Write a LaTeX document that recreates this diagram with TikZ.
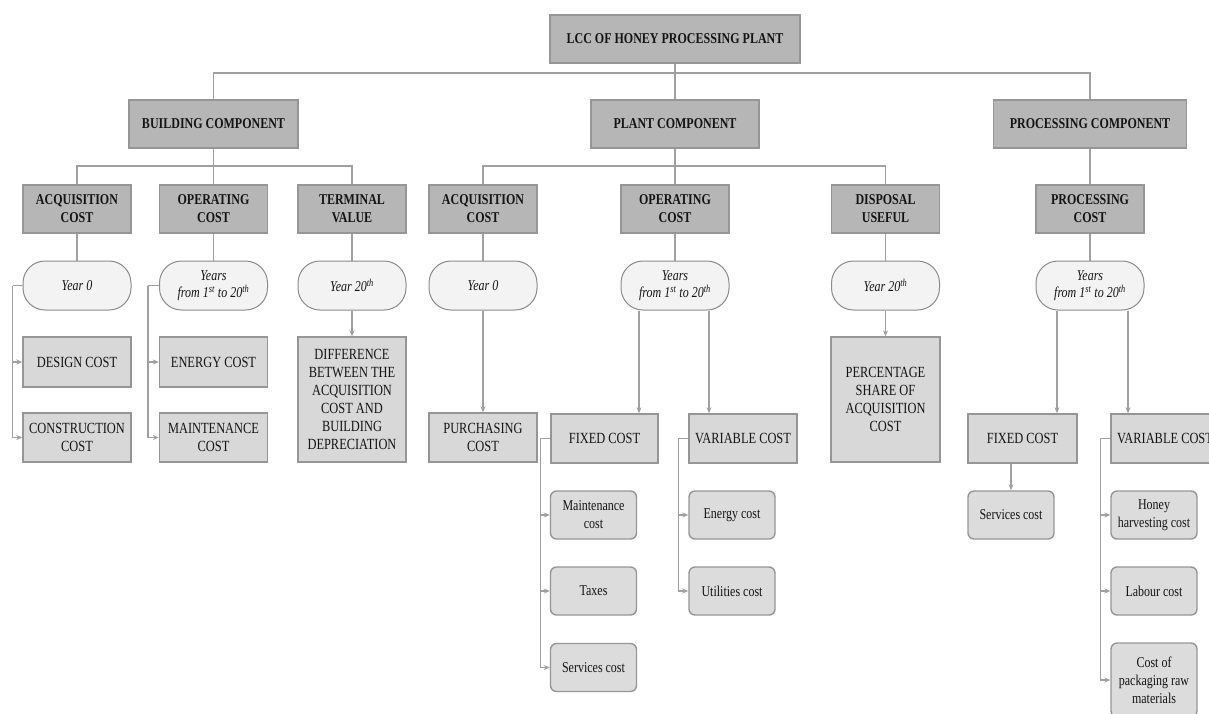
\documentclass[tikz,border=0pt]{standalone}
\usepackage{fontspec}
\setmainfont{Liberation Serif}[FakeStretch=0.8]
\usetikzlibrary{arrows.meta}
\definecolor{darkfill}{RGB}{182,182,182}
\definecolor{darkline}{RGB}{150,150,150}
\definecolor{lightfill}{RGB}{216,216,216}
\definecolor{roundfill}{RGB}{220,220,220}
\definecolor{ovalfill}{RGB}{243,243,243}
\definecolor{ovalline}{RGB}{140,140,140}
\definecolor{conn}{RGB}{160,160,160}
\definecolor{txt}{RGB}{20,20,20}
\tikzset{
  base/.style={align=center, inner sep=2pt, text=txt, font=\fontsize{15}{18}\selectfont, line width=1.4pt},
  hbox/.style={base, draw=darkline, fill=darkfill, font=\fontsize{15}{18}\selectfont\bfseries, minimum height=48pt},
  lbox/.style={base, draw=darkline, fill=lightfill, minimum width=108pt, font=\fontsize{15.5}{18}\selectfont},
  rbox/.style={base, draw=darkline, fill=roundfill, rounded corners=6pt, minimum width=86pt, minimum height=48pt},
  oval/.style={base, draw=ovalline, fill=ovalfill, rounded corners=22pt, minimum width=108pt, minimum height=49pt, font=\fontsize{15}{17}\selectfont\itshape, line width=1pt},
  ln/.style={draw=conn, line width=1.3pt},
  arr/.style={ln, -{Stealth[length=6pt,width=5pt]}}
}
\begin{document}
\begin{tikzpicture}[x=1pt, y=-1pt]
\useasboundingbox (0,0) rectangle (1209,713);
\clip (0,0) rectangle (1209,713);
\fill[white] (0,0) rectangle (1209,713);
% level 1
\node[hbox, minimum width=250pt] (lcc) at (675,39) {LCC OF HONEY PROCESSING PLANT};
% level 2
\node[hbox, minimum width=169pt] (bc) at (213.5,124) {BUILDING COMPONENT};
\node[hbox, minimum width=168pt] (pc) at (675,124) {PLANT COMPONENT};
\node[hbox, minimum width=193pt] (prc) at (1090,124) {PROCESSING COMPONENT};
% level 3
\node[hbox, minimum width=108pt] (ab) at (77,209) {ACQUISITION\\COST};
\node[hbox, minimum width=108pt] (ob) at (213.5,209) {OPERATING\\COST};
\node[hbox, minimum width=108pt] (tb) at (352,209) {TERMINAL\\VALUE};
\node[hbox, minimum width=108pt] (ap) at (483,209) {ACQUISITION\\COST};
\node[hbox, minimum width=108pt] (op) at (675,209) {OPERATING\\COST};
\node[hbox, minimum width=108pt] (dp) at (885.5,209) {DISPOSAL\\USEFUL};
\node[hbox, minimum width=108pt] (pcst) at (1090,209) {PROCESSING\\COST};
% level 4 ovals
\node[oval] (yb0) at (77,285.5) {Year 0};
\node[oval] (ybn) at (213.5,285.5) {Years\\from 1\textsuperscript{st} to 20\textsuperscript{th}};
\node[oval] (yb20) at (352,285.5) {Year 20\textsuperscript{th}};
\node[oval] (yp0) at (483,285.5) {Year 0};
\node[oval] (ypn) at (675,285.5) {Years\\from 1\textsuperscript{st} to 20\textsuperscript{th}};
\node[oval] (yd20) at (885.5,285.5) {Year 20\textsuperscript{th}};
\node[oval] (yrn) at (1090,285.5) {Years\\from 1\textsuperscript{st} to 20\textsuperscript{th}};
% level 5 building
\node[lbox, minimum height=50pt] (design) at (77,362) {DESIGN COST};
\node[lbox, minimum height=49pt] (constr) at (77,437.5) {CONSTRUCTION\\COST};
\node[lbox, minimum height=50pt] (energyb) at (213.5,362) {ENERGY COST};
\node[lbox, minimum height=49pt] (maintb) at (213.5,437.5) {MAINTENANCE\\COST};
\node[lbox, minimum height=125pt] (diff) at (352,399.5) {DIFFERENCE\\BETWEEN THE\\ACQUISITION\\COST AND\\BUILDING\\DEPRECIATION};
% level 5 plant
\node[lbox, minimum height=49pt] (purch) at (483,437.5) {PURCHASING\\COST};
\node[lbox, minimum width=107pt, minimum height=49pt] (fixp) at (604.5,438.5) {FIXED COST};
\node[lbox, minimum height=49pt] (varp) at (743,438.5) {VARIABLE COST};
\node[lbox, minimum width=109pt, minimum height=125pt] (perc) at (885.5,399.5) {PERCENTAGE\\SHARE OF\\ACQUISITION\\COST};
% level 5 processing
\node[lbox, minimum width=109pt, minimum height=49pt] (fixr) at (1022.5,438.5) {FIXED COST};
\node[lbox, minimum height=49pt] (varr) at (1165,438.5) {VARIABLE COST};
% level 6
\node[rbox] (maint) at (593.5,515) {Maintenance\\cost};
\node[rbox] (taxes) at (593.5,591) {Taxes};
\node[rbox] (svc) at (593.5,667.5) {Services cost};
\node[rbox] (energyp) at (732,515) {Energy cost};
\node[rbox] (util) at (732,591) {Utilities cost};
\node[rbox] (svcr) at (1011,515) {Services cost};
\node[rbox] (honey) at (1154,515) {Honey\\harvesting cost};
\node[rbox] (labour) at (1154,591) {Labour cost};
\node[rbox, minimum height=74pt] (pack) at (1154,680) {Cost of\\packaging raw\\materials};
% connectors level 1-2
\coordinate (j1) at (675,73);
\draw[ln] (lcc.south) -- (pc.north);
\draw[ln] (j1) -| (bc.north);
\draw[ln] (j1) -| (prc.north);
% level 2-3
\coordinate (j2) at (213.5,166);
\draw[ln] (bc.south) -- (ob.north);
\draw[ln] (j2) -| (ab.north);
\draw[ln] (j2) -| (tb.north);
\coordinate (j3) at (675,166);
\draw[ln] (pc.south) -- (op.north);
\draw[ln] (j3) -| (ap.north);
\draw[ln] (j3) -| (dp.north);
\draw[ln] (prc.south) -- (pcst.north);
% level 3-4
\draw[ln] (ab.south) -- (yb0.north);
\draw[ln] (ob.south) -- (ybn.north);
\draw[ln] (tb.south) -- (yb20.north);
\draw[ln] (ap.south) -- (yp0.north);
\draw[ln] (op.south) -- (ypn.north);
\draw[ln] (dp.south) -- (yd20.north);
\draw[ln] (pcst.south) -- (yrn.north);
% building level 4-5
\coordinate (k1) at ([xshift=-10pt]yb0.west);
\draw[ln] (yb0.west) -- (k1);
\draw[arr] (k1) |- (design.west);
\draw[arr] (k1) |- (constr.west);
\coordinate (k2) at ([xshift=-11pt]ybn.west);
\draw[ln] (ybn.west) -- (k2);
\draw[arr] (k2) |- (energyb.west);
\draw[arr] (k2) |- (maintb.west);
\draw[arr] (yb20.south) -- (diff.north);
% plant level 4-5
\draw[arr] (yp0.south) -- (purch.north);
\coordinate (p1) at ([xshift=-36pt]ypn.south);
\coordinate (p2) at ([xshift=34pt]ypn.south);
\draw[arr] (p1) -- (p1 |- fixp.north);
\draw[arr] (p2) -- (p2 |- varp.north);
\draw[arr] (yd20.south) -- (perc.north);
% processing level 4-5
\coordinate (r1) at ([xshift=-33pt]yrn.south);
\coordinate (r2) at ([xshift=38pt]yrn.south);
\draw[arr] (r1) -- (r1 |- fixr.north);
\draw[arr] (r2) -- (r2 |- varr.north);
% plant level 5-6
\coordinate (q1) at ([xshift=-10pt]fixp.west);
\draw[ln] (fixp.west) -- (q1);
\draw[arr] (q1) |- (maint.west);
\draw[arr] (q1) |- (taxes.west);
\draw[arr] (q1) |- (svc.west);
\coordinate (q2) at ([xshift=-10pt]varp.west);
\draw[ln] (varp.west) -- (q2);
\draw[arr] (q2) |- (energyp.west);
\draw[arr] (q2) |- (util.west);
% processing level 5-6
\draw[arr] (svcr.north |- fixr.south) -- (svcr.north);
\coordinate (q3) at ([xshift=-10pt]varr.west);
\draw[ln] (varr.west) -- (q3);
\draw[arr] (q3) |- (honey.west);
\draw[arr] (q3) |- (labour.west);
\draw[arr] (q3) |- (pack.west);
\end{tikzpicture}
\end{document}
